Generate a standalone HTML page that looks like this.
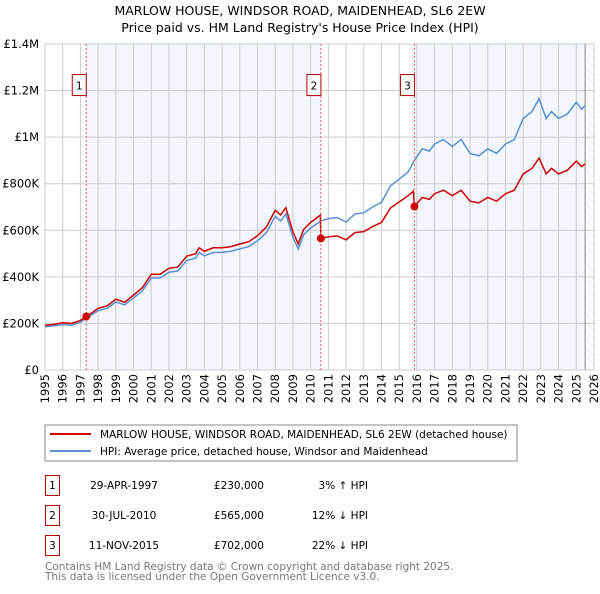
<!DOCTYPE html>
<html><head><meta charset="utf-8"><style>
body{margin:0;background:#fff;font-family:"DejaVu Sans","Liberation Sans",sans-serif;}
svg text{font-family:"DejaVu Sans","Liberation Sans",sans-serif;}
</style></head><body>
<svg id="c" width="600" height="590" xmlns="http://www.w3.org/2000/svg">
<defs><pattern id="hatch" width="6" height="6" patternUnits="userSpaceOnUse" patternTransform="rotate(-45)"><line x1="0" y1="0" x2="0" y2="6" stroke="#ddd" stroke-width="1"/></pattern></defs>
<text x="300" y="15" text-anchor="middle" font-size="12.5">MARLOW HOUSE, WINDSOR ROAD, MAIDENHEAD, SL6 2EW</text>
<text x="300" y="32" text-anchor="middle" font-size="12.5">Price paid vs. HM Land Registry's House Price Index (HPI)</text>
<g id="bg"></g><g id="grid"></g><g id="axes"></g><g id="series"></g><g id="marks"></g>
<rect x="45" y="425" width="472" height="36" fill="#fff" stroke="#888"/>
<line x1="50" y1="434" x2="91" y2="434" stroke="#cc0000" stroke-width="2"/>
<text x="100" y="438" font-size="10.5">MARLOW HOUSE, WINDSOR ROAD, MAIDENHEAD, SL6 2EW (detached house)</text>
<line x1="50" y1="451" x2="91" y2="451" stroke="#5b8fd0" stroke-width="2"/>
<text x="100" y="455" font-size="10.5">HPI: Average price, detached house, Windsor and Maidenhead</text>
<g id="table" font-size="10.5"></g>
<text x="45" y="570" font-size="10.5" fill="#777">Contains HM Land Registry data © Crown copyright and database right 2025.</text>
<text x="45" y="580" font-size="10.5" fill="#777">This data is licensed under the Open Government Licence v3.0.</text>
</svg>
<script>
const hpiYears=[1995,1995.5,1996,1996.5,1997,1997.33,1997.7,1998,1998.5,1999,1999.5,2000,2000.5,2001,2001.5,2002,2002.5,2003,2003.5,2003.7,2004,2004.5,2005,2005.5,2006,2006.5,2007,2007.5,2008,2008.3,2008.6,2009,2009.3,2009.6,2010,2010.58,2011,2011.5,2012,2012.5,2013,2013.5,2014,2014.5,2015,2015.5,2015.86,2016.3,2016.7,2017,2017.5,2018,2018.5,2019,2019.5,2020,2020.5,2021,2021.5,2022,2022.5,2022.9,2023.3,2023.6,2024,2024.5,2025,2025.3,2025.5];
const hpiValues=[185,190,195,192,205,222,240,255,265,292,280,310,340,395,395,420,425,470,480,505,490,505,505,510,520,530,555,590,660,640,670,570,520,580,610,640,650,655,635,670,675,700,720,790,820,850,900,950,940,970,990,960,990,930,920,950,930,970,990,1080,1110,1165,1080,1110,1080,1100,1150,1120,1135];
const redYears=[1995,1995.5,1996,1996.5,1997,1997.33,1997.7,1998,1998.5,1999,1999.5,2000,2000.5,2001,2001.5,2002,2002.5,2003,2003.5,2003.7,2004,2004.5,2005,2005.5,2006,2006.5,2007,2007.5,2008,2008.3,2008.6,2009,2009.3,2009.6,2010,2010.55,2010.58,2011,2011.5,2012,2012.5,2013,2013.5,2014,2014.5,2015,2015.5,2015.8,2015.86,2016.3,2016.7,2017,2017.5,2018,2018.5,2019,2019.5,2020,2020.5,2021,2021.5,2022,2022.5,2022.9,2023.3,2023.6,2024,2024.5,2025,2025.3,2025.5];
const redValues=[192,196,203,200,213,230,248,265,275,304,291,322,354,411,411,437,442,489,499,525,510,525,525,530,541,551,577,614,686,666,697,593,541,603,634,665,565,572,576,559,590,594,616,634,695,722,748,768,702,741,733,757,772,749,772,725,718,741,725,757,772,842,866,910,842,866,842,858,897,874,885];
const saleYears=[1997.33,2010.58,2015.86];
const saleValues=[230,565,702];
const saleLabels=["1","2","3"];
const saleDates=["29-APR-1997","30-JUL-2010","11-NOV-2015"];
const salePrices=["£230,000","£565,000","£702,000"];
const saleDiffs=["3% ↑ HPI","12% ↓ HPI","22% ↓ HPI"];
const yTicks=[0,200,400,600,800,1000,1200,1400];
const yTickLabels=["£0","£200K","£400K","£600K","£800K","£1M","£1.2M","£1.4M"];
const xTicks=[1995,1996,1997,1998,1999,2000,2001,2002,2003,2004,2005,2006,2007,2008,2009,2010,2011,2012,2013,2014,2015,2016,2017,2018,2019,2020,2021,2022,2023,2024,2025,2026];

const X0=45,X1=594,Y0=370,Y1=44;
const xs=y=>X0+(y-1995)/(2026-1995)*(X1-X0);
const ys=v=>Y0-v/1400*(Y0-Y1);
const NS="http://www.w3.org/2000/svg";
function mk(p,tag,at){const e=document.createElementNS(NS,tag);for(const k in at)e.setAttribute(k,at[k]);document.getElementById(p).appendChild(e);return e;}

let e=mk('bg','rect',{x:X0,y:Y1,width:X1-X0,height:Y0-Y1,fill:'#fff'});


e=mk('bg','rect',{x:xs(saleYears[0]),y:Y1,width:xs(saleYears[1])-xs(saleYears[0]),height:Y0-Y1,fill:'#f3f6fd'});


e=mk('bg','rect',{x:xs(saleYears[2]),y:Y1,width:xs(2025.5)-xs(saleYears[2]),height:Y0-Y1,fill:'#f3f6fd'});


e=mk('bg','rect',{x:xs(2025.5),y:Y1,width:X1-xs(2025.5),height:Y0-Y1,fill:'url(#hatch)'});



xTicks.forEach(t=>{
  e=mk('grid','line',{x1:xs(t),x2:xs(t),y1:Y1,y2:Y0,stroke:'#ccc','stroke-width':1});
  
  
  e=mk('axes','text',{transform:`translate(${xs(t)+4},${Y0+4}) rotate(-90)`,'text-anchor':'end','font-size':11.5});
  e.textContent=t;
  
  
});
yTicks.forEach((t,i)=>{
  e=mk('grid','line',{x1:X0,x2:X1,y1:ys(t),y2:ys(t),stroke:'#ccc','stroke-width':1});
  
  
  e=mk('axes','text',{x:X0-6,y:ys(t)+4,'text-anchor':'end','font-size':11.5});
  e.textContent=yTickLabels[i];
  
  
});
e=mk('grid','line',{x1:xs(2025.5),x2:xs(2025.5),y1:Y1,y2:Y0,stroke:'#888','stroke-width':1});



e=mk('series','polyline',{points:hpiYears.map((y,i)=>xs(y)+','+ys(hpiValues[i])).join(' '),fill:'none',stroke:'#5b8fd0','stroke-width':1.5});


e=mk('series','polyline',{points:redYears.map((y,i)=>xs(y)+','+ys(redValues[i])).join(' '),fill:'none',stroke:'#cc0000','stroke-width':1.5});



saleYears.forEach((y,i)=>{
  const x=xs(y);
  e=mk('marks','line',{x1:x,x2:x,y1:Y1,y2:Y0,stroke:'#e06060','stroke-width':1,'stroke-dasharray':'2,2'});
  
  
  e=mk('marks','circle',{cx:x,cy:ys(saleValues[i]),r:4,fill:'#cc0000'});
  
  
  e=mk('marks','rect',{x:x-14,y:ys(1200)-16,width:14,height:21,fill:'#fff',stroke:'#b00000'});
  
  
  e=mk('marks','text',{x:x-7,y:ys(1200)-1,'text-anchor':'middle','font-size':10.5});
  e.textContent=saleLabels[i];
  
  
  const ry=475+i*30;
  e=mk('table','rect',{x:45.5,y:ry+0.5,width:14,height:20,fill:'#fff',stroke:'#b00000'});
  
  
  e=mk('table','text',{x:52.5,y:ry+14,'text-anchor':'middle'});e.textContent=saleLabels[i];
  
  
  e=mk('table','text',{x:124,y:ry+14,'text-anchor':'middle'});e.textContent=saleDates[i];
  
  
  e=mk('table','text',{x:264,y:ry+14,'text-anchor':'end'});e.textContent=salePrices[i];
  
  
  e=mk('table','text',{x:368,y:ry+14,'text-anchor':'end'});e.textContent=saleDiffs[i];
  
  
});
</script>
</body></html>
